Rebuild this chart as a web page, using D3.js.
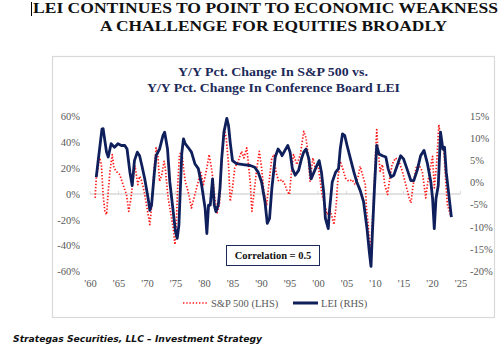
<!DOCTYPE html>
<html><head><meta charset="utf-8">
<script src="https://cdn.jsdelivr.net/npm/d3@7"></script>
<style>
html,body{margin:0;padding:0;background:#fff;}
svg{display:block;}
</style></head>
<body><svg id="c" width="500" height="345"></svg>
<script>
// ---- data ----
const leiYears = [1961.1,1961.4,1962.1,1962.3,1962.9,1963.2,1963.7,1964.3,1964.9,1965.5,1966.1,1966.5,1967.0,1967.4,1967.8,1968.3,1968.7,1969.1,1969.6,1970.2,1970.5,1970.8,1971.3,1971.6,1972.2,1972.8,1973.1,1973.6,1974.0,1974.6,1975.0,1975.3,1975.6,1975.9,1976.1,1976.4,1976.7,1977.2,1977.8,1978.4,1979.0,1979.6,1980.2,1980.5,1980.8,1981.1,1981.5,1981.8,1982.1,1982.5,1982.8,1983.1,1983.5,1984.0,1984.3,1984.6,1985.0,1985.7,1986.9,1988.1,1988.9,1989.5,1990.1,1990.7,1991.1,1991.5,1991.9,1992.5,1993.0,1993.4,1993.7,1994.2,1994.7,1995.1,1995.5,1996.0,1996.6,1997.1,1997.5,1997.9,1998.4,1998.8,1999.3,1999.8,2000.2,2000.6,2001.0,2001.3,2001.8,2002.0,2002.5,2003.1,2003.6,2003.9,2004.3,2004.7,2005.1,2005.7,2006.3,2006.8,2007.4,2008.0,2008.6,2009.0,2009.3,2009.5,2009.9,2010.3,2010.7,2011.3,2011.9,2012.3,2012.8,2013.3,2013.9,2014.5,2015.0,2015.6,2016.3,2016.8,2017.4,2018.0,2018.6,2019.2,2019.8,2020.1,2020.4,2020.7,2021.1,2021.5,2021.9,2022.2,2022.5,2022.9,2023.4];
const leiValues = [1.2,4.5,12,12.1,6.8,5.7,8.7,7.9,8.7,8.3,8.3,7.5,2.3,-0.7,4.9,6.8,6.0,3.8,0.8,-3.6,-6.3,-5.1,2.3,6.0,7.5,10.5,11.3,7.5,0.1,-6.6,-11.1,-12.6,-9.6,0.1,6.5,9.8,8.7,7.9,6.8,4.2,3.1,-0.7,-5.9,-11.5,-5.1,-5.1,0.8,-5.1,-6.6,-5.1,-1.4,5.3,11.3,14.4,12.8,9.0,4.9,4.2,4.0,3.8,3.4,2.3,0.1,-4.4,-9.2,-8.1,-1.4,5.7,7.5,6.8,6.0,7.2,8.3,6.8,3.1,1.6,2.7,5.3,6.8,7.5,5.3,0.8,2.3,3.8,4.9,2.3,-2.2,-8.1,-10.4,-6.6,0.1,2.3,3.1,7.5,10.9,10.5,8.3,5.3,2.3,0.1,-1.8,-4.4,-10.4,-15.6,-18.9,-12.6,-1.4,8.3,6.4,6.0,5.7,3.1,1.2,1.6,3.8,6.0,5.3,3.1,0.4,0.4,2.7,6.0,7.2,4.2,0.1,-3.6,-10.4,-3.6,-0.7,11.3,7.5,7.9,2.3,-2.2,-7.8];

const spxYears = [1960.9,1961.1,1961.7,1962.0,1962.3,1962.6,1962.9,1963.2,1963.5,1963.9,1964.2,1964.6,1965.2,1965.8,1966.4,1966.8,1967.2,1967.5,1967.9,1968.4,1968.7,1969.0,1969.5,1969.9,1970.5,1970.9,1971.2,1971.6,1971.9,1972.2,1972.6,1973.0,1973.2,1973.7,1974.2,1974.6,1974.9,1975.1,1975.4,1975.7,1976.1,1976.4,1976.7,1977.2,1977.8,1978.4,1979.0,1979.4,1979.9,1980.5,1980.9,1981.4,1981.9,1982.3,1982.7,1983.1,1983.5,1983.9,1984.3,1984.6,1985.0,1985.4,1986.0,1986.6,1987.0,1987.5,1988.1,1988.4,1988.8,1989.2,1989.7,1990.1,1990.5,1991.0,1991.5,1991.9,1992.3,1992.6,1993.1,1993.7,1994.2,1994.6,1995.0,1995.3,1995.7,1996.3,1996.9,1997.5,1997.9,1998.2,1998.6,1999.1,1999.5,2000.0,2000.4,2000.7,2001.2,2001.6,2002.2,2002.8,2003.2,2003.5,2003.9,2004.3,2004.8,2005.4,2006.0,2006.5,2007.0,2007.4,2007.8,2008.3,2008.5,2008.8,2009.1,2009.3,2009.7,2010.0,2010.3,2010.5,2010.9,2011.3,2011.7,2012.2,2012.6,2013.0,2013.6,2014.2,2014.8,2015.4,2016.0,2016.3,2016.7,2017.2,2017.7,2018.3,2018.9,2019.2,2019.6,2020.1,2020.4,2020.8,2021.2,2021.6,2022.1,2022.4,2022.7,2023.2];
const spxValues = [-3.1,12.4,27.9,22.7,-0.5,-13.5,-16,2,17.5,30.5,20.2,17.5,15,7.2,-0.5,-13.5,-3.1,9.8,21.4,7.2,13.6,11,2,-8.3,-23.8,-5.7,17.5,35.7,30.5,9.8,15,25.3,20.2,-3.1,-16,-26.4,-39.3,-29,7.2,30.5,33,20.2,9.8,2,-10.9,-0.5,9.8,17.5,7.2,20.2,30.5,17.5,-3.1,-14.7,-8.3,22.7,51.2,43.4,22.7,-5.7,4.7,20.2,25.3,33,27.9,35.7,9.8,-13.5,2,17.5,33,20.2,2,-8.3,12.4,27.9,30.5,17.5,9.8,11,7.2,2,-0.5,15,30.5,22.7,30.5,48.5,43.4,33,9.8,27.9,20.2,22.7,9.8,-0.5,-8.3,-16,-13.5,-23.8,-8.3,12.4,25.3,20.2,12.4,9.8,11,7.2,12.4,21.4,15,7.2,-10.9,-23.8,-41.9,-39.3,-8.3,22.7,49.8,35.7,17.5,22.7,7.2,-0.5,12.4,22.7,27.9,25.3,17.5,7.2,-3.1,-7,7.2,20.2,22.7,17.5,-3.1,7.2,17.5,29.1,4.7,22.7,53.7,40.8,33,9.8,-8.3,-16];

const xTickYears = [1960,1965,1970,1975,1980,1985,1990,1995,2000,2005,2010,2015,2020,2025];
const xTickLabels = ["'60","'65","'70","'75","'80","'85","'90","'95","'00","'05","'10","'15","'20","'25"];
const leftTicks = [60,40,20,0,-20,-40,-60];
const rightTicks = [15,10,5,0,-5,-10,-15,-20];

const mainTitle = ["LEI CONTINUES TO POINT TO ECONOMIC WEAKNESS","A CHALLENGE FOR EQUITIES BROADLY"];
const chartTitle = ["Y/Y Pct. Change In S&P 500 vs.","Y/Y Pct. Change In Conference Board LEI"];
const seriesNames = ["S&P 500 (LHS)","LEI (RHS)"];
const noteText = "Correlation = 0.5";
const footerText = "Strategas Securities, LLC \u2013 Investment Strategy";

// ---- drawing ----
const svg = d3.select("#c");
const serif = "'Liberation Serif', 'Times New Roman', serif";
const NAVY = "#0f1f5c", RED = "#ff1a1a", GRAY = "#595959";

// main title
svg.append("line").attr("x1",31.5).attr("x2",31.5).attr("y1",2).attr("y2",16).attr("stroke","#000").attr("stroke-width",1);
svg.append("text").attr("x",33).attr("y",13).attr("textLength",465).attr("lengthAdjust","spacingAndGlyphs")
  .attr("font-family",serif).attr("font-weight","bold").attr("font-size",15.5).attr("fill","#111").text(mainTitle[0]);
svg.append("text").attr("x",100).attr("y",31).attr("textLength",347).attr("lengthAdjust","spacingAndGlyphs")
  .attr("font-family",serif).attr("font-weight","bold").attr("font-size",15.5).attr("fill","#111").text(mainTitle[1]);

// chart box
svg.append("rect").attr("x",52.5).attr("y",56.5).attr("width",442).attr("height",261)
  .attr("fill","#fff").attr("stroke","#d9d9d9").attr("stroke-width",1.2);

// chart title
const ctPos = [[178,190],[147,253]];
chartTitle.forEach((t,i)=>{
  svg.append("text").attr("x",ctPos[i][0]).attr("y",76+i*16).attr("textLength",ctPos[i][1]).attr("lengthAdjust","spacingAndGlyphs")
    .attr("font-family",serif).attr("font-weight","bold").attr("font-size",13.5).attr("fill","#1c2a5a").text(t);
});

// scales
const x = d3.scaleLinear().domain([1960,2025]).range([90,460.5]);
const yL = d3.scaleLinear().domain([-60,60]).range([271.3,116.5]);
const yR = d3.scaleLinear().domain([-20,15]).range([271.3,115.7]);

// left axis
const gL = svg.append("g").attr("transform","translate(80,0)")
  .call(d3.axisLeft(yL).tickValues(leftTicks).tickFormat(d=>d+"%").tickSize(0).tickPadding(0));
gL.select(".domain").remove();
gL.selectAll("text").attr("font-family",serif).attr("font-size",10.5).attr("fill",GRAY);

// right axis
const gR = svg.append("g").attr("transform","translate(470,0)")
  .call(d3.axisRight(yR).tickValues(rightTicks).tickFormat(d=>d+"%").tickSize(0).tickPadding(0));
gR.select(".domain").remove();
gR.selectAll("text").attr("font-family",serif).attr("font-size",10.5).attr("fill",GRAY);

// zero line with small ticks
svg.append("line").attr("x1",x(1960)).attr("x2",x(2025)).attr("y1",yL(0)).attr("y2",yL(0))
  .attr("stroke","#d9d9d9").attr("stroke-width",1.5);
svg.selectAll(".zt").data(xTickYears).enter().append("line")
  .attr("x1",d=>x(d)).attr("x2",d=>x(d)).attr("y1",yL(0)).attr("y2",yL(0)-3)
  .attr("stroke","#d9d9d9").attr("stroke-width",1);

// x axis labels
const gX = svg.append("g").attr("transform","translate(0,280)")
  .call(d3.axisBottom(x).tickValues(xTickYears).tickFormat((d,i)=>xTickLabels[i]).tickSize(0).tickPadding(0));
gX.select(".domain").remove();
gX.selectAll("text").attr("font-family",serif).attr("font-size",10.5).attr("fill",GRAY);

// series
const spx = spxYears.map((y,i)=>[y,spxValues[i]]);
const lei = leiYears.map((y,i)=>[y,leiValues[i]]);
svg.append("path").datum(spx)
  .attr("d",d3.line().x(d=>x(d[0])).y(d=>yL(d[1])))
  .attr("fill","none").attr("stroke",RED).attr("stroke-width",1.7)
  .attr("stroke-dasharray","1.4,1.8").attr("stroke-linejoin","round");
svg.append("path").datum(lei)
  .attr("d",d3.line().x(d=>x(d[0])).y(d=>yR(d[1])))
  .attr("fill","none").attr("stroke",NAVY).attr("stroke-width",2.8).attr("stroke-linejoin","round");

// correlation box
svg.append("rect").attr("x",226.5).attr("y",245.5).attr("width",93).attr("height",20)
  .attr("fill","#fff").attr("stroke","#1c2a5a").attr("stroke-width",1);
svg.append("text").attr("x",273).attr("y",259).attr("text-anchor","middle")
  .attr("font-family",serif).attr("font-weight","bold").attr("font-size",10.5).attr("fill","#111").text(noteText);

// legend
const ly = 303;
svg.append("line").attr("x1",183).attr("x2",207).attr("y1",ly).attr("y2",ly)
  .attr("stroke",RED).attr("stroke-width",1.7).attr("stroke-dasharray","1.4,1.8");
svg.append("text").attr("x",211).attr("y",ly+3.5).attr("font-family",serif).attr("font-size",10.5).attr("fill",GRAY).text(seriesNames[0]);
svg.append("line").attr("x1",293).attr("x2",318).attr("y1",ly).attr("y2",ly)
  .attr("stroke",NAVY).attr("stroke-width",3);
svg.append("text").attr("x",321).attr("y",ly+3.5).attr("font-family",serif).attr("font-size",10.5).attr("fill",GRAY).text(seriesNames[1]);

// footer
svg.append("text").attr("x",13).attr("y",342).attr("textLength",249).attr("lengthAdjust","spacingAndGlyphs")
  .attr("font-family","'DejaVu Sans', Verdana, sans-serif").attr("font-weight","bold").attr("font-style","italic")
  .attr("font-size",9).attr("fill","#111").text(footerText);
</script></body></html>
